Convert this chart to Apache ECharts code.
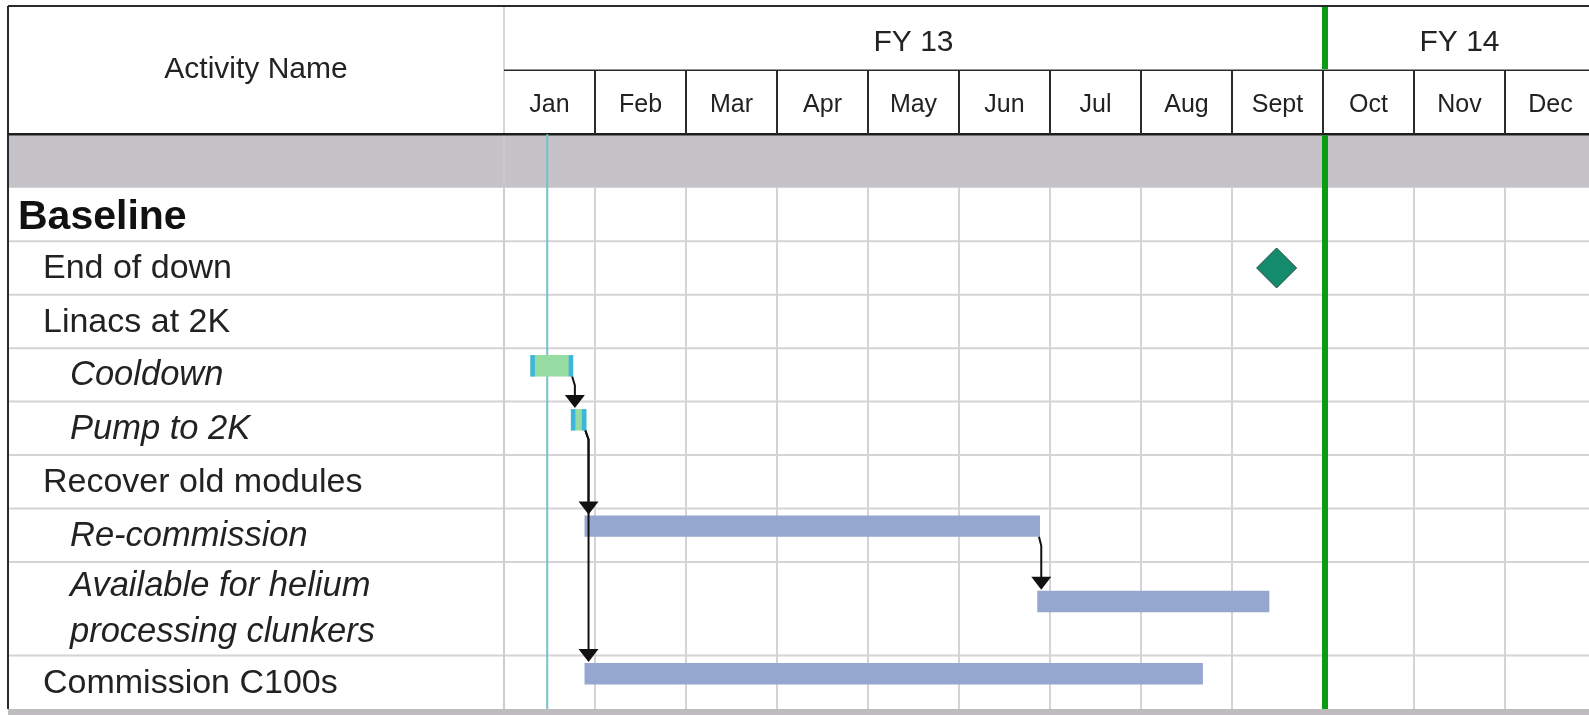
<!DOCTYPE html>
<html><head><meta charset="utf-8">
<script src="https://cdn.jsdelivr.net/npm/echarts@6/dist/echarts.min.js"></script>
<style>html,body{margin:0;padding:0;background:#fff}#c{width:1589px;height:715px}</style>
</head><body><div id="c"></div>
<script>
// ---------------- data ----------------
const months = ['Jan','Feb','Mar','Apr','May','Jun','Jul','Aug','Sept','Oct','Nov','Dec'];
const fiscalYears = ['FY 13','FY 14'];
const fiscalYearStart = [0, 9];
const fiscalYearEnd = [9, 12];
const activities = ['Baseline','End of down','Linacs at 2K','Cooldown','Pump to 2K','Recover old modules','Re-commission','Available for helium\nprocessing clunkers','Commission C100s'];
// tasks (months from Jan 1)
const taskRow   = [3, 4, 6, 7, 8];
const taskStart = [0.29, 0.735, 0.885, 5.86, 0.885];
const taskEnd   = [0.76, 0.905, 5.89, 8.41, 7.68];
// milestones
const milestoneRow = [1];
const milestoneMonth = [8.49];
// dependency links (task index -> task index)
const linkFrom = [0, 1, 1, 2];
const linkTo   = [1, 2, 4, 3];
const statusDate = 0.475;
const fyBoundary = 9;

// ---------------- layout / style ----------------
const FONT = "'Liberation Sans', Arial, sans-serif";
const rowLevel = [0,1,1,2,2,1,2,2,1];
const rowUnits = [1,1,1,1,1,1,1,1.75,1];
const barOffset = [0.13,0.13,0.13,0.13,0.14,0.13,0.13,0.54,0.14];
const barH = 0.40;
const cryoRows = [3,4];
const bandTop = 0, bandEnd = 1;
const headTop = -2.4, headMid = -1.2;
const visibleMonths = 11.923;   // the Dec column is cut off by the picture edge
const rowTop = [];
let acc = bandEnd;
rowUnits.forEach((u,i)=>{ rowTop.push(acc); acc += u; });
const yMax = acc;
const LEFT_X = 8;
const levelX = [18, 43, 70];

const chart = echarts.init(document.getElementById('c'), null, {renderer:'canvas'});

function single(render, z){
  return {type:'custom', coordinateSystem:'cartesian2d', data:[[0,0]], renderItem: render, z: z, silent:true, clip:false, animation:false};
}

const series = [];

// grey band
series.push(single((p, api) => {
  const a = api.coord([0, bandTop]), b = api.coord([12, bandEnd]);
  return {type:'rect', shape:{x:LEFT_X, y:a[1], width:api.getWidth()-LEFT_X, height:b[1]-a[1]}, style:{fill:'#c5c3c7'}};
}, 1));

// vertical grid lines in body
series.push({type:'custom', coordinateSystem:'cartesian2d', z:2, silent:true, clip:false, animation:false,
  data: months.map((m,i)=>[i,0]).concat([[months.length,0]]),
  renderItem: (p, api) => {
    const x = api.coord([api.value(0), 0])[0];
    const y0 = api.coord([0, bandEnd])[1], y1 = api.coord([0, yMax])[1];
    return {type:'line', shape:{x1:x,y1:y0,x2:x,y2:y1}, style:{stroke:'#d6d2d7', lineWidth:2}};
  }});

// horizontal row lines
series.push({type:'custom', coordinateSystem:'cartesian2d', z:2, silent:true, clip:false, animation:false,
  data: rowTop.slice(1).map(v=>[0,v]),
  renderItem: (p, api) => {
    const y = api.coord([0, api.value(1)])[1];
    return {type:'line', shape:{x1:LEFT_X,y1:y,x2:api.getWidth(),y2:y}, style:{stroke:'#d6d2d7', lineWidth:2}};
  }});

// activity column divider (grey)
series.push(single((p, api) => {
  const x = api.coord([0,0])[0];
  const y0 = api.coord([0, headTop])[1], y1 = api.coord([0, yMax])[1];
  return {type:'line', shape:{x1:x,y1:y0,x2:x,y2:y1}, style:{stroke:'#cdc9ce', lineWidth:1.5}};
}, 3));

// header lines
series.push(single((p, api) => {
  const W = api.getWidth();
  const yTop = api.coord([0, headTop])[1], yMid = api.coord([0, headMid])[1], yBot = api.coord([0, 0])[1];
  const yEnd = api.coord([0, yMax])[1];
  const x0 = api.coord([0,0])[0];
  const ch = [
    {type:'line', shape:{x1:LEFT_X,y1:yTop,x2:W,y2:yTop}, style:{stroke:'#2a2a2a', lineWidth:2}},
    {type:'line', shape:{x1:LEFT_X,y1:yTop,x2:LEFT_X,y2:yEnd}, style:{stroke:'#2a2a2a', lineWidth:2}},
    {type:'line', shape:{x1:x0,y1:yMid,x2:W,y2:yMid}, style:{stroke:'#2a2a2a', lineWidth:1.5}},
    {type:'line', shape:{x1:LEFT_X,y1:yBot,x2:W,y2:yBot}, style:{stroke:'#1e1e1e', lineWidth:2.5}},
    {type:'rect', shape:{x:LEFT_X, y:yEnd, width:W-LEFT_X, height:api.getHeight()-yEnd}, style:{fill:'#bebcbf'}}
  ];
  for (let i = 1; i <= months.length; i++) {
    const x = api.coord([i, 0])[0];
    ch.push({type:'line', shape:{x1:x,y1:yMid,x2:x,y2:yBot}, style:{stroke:'#2a2a2a', lineWidth:2}});
  }
  return {type:'group', children:ch};
}, 4));

// status date line
series.push(single((p, api) => {
  const a = api.coord([statusDate, 0]), b = api.coord([statusDate, yMax]);
  return {type:'line', shape:{x1:a[0],y1:a[1],x2:b[0],y2:b[1]}, style:{stroke:'#74c2c8', lineWidth:2}};
}, 5));

// fiscal year boundary (green)
series.push(single((p, api) => {
  const x = api.coord([fyBoundary, 0])[0] + 2;
  const yTop = api.coord([0, headTop])[1], yMid = api.coord([0, headMid])[1], yBot = api.coord([0, 0])[1], yEnd = api.coord([0, yMax])[1];
  return {type:'group', children:[
    {type:'line', shape:{x1:x,y1:yTop+1,x2:x,y2:yMid-1}, style:{stroke:'#0a9c12', lineWidth:6}},
    {type:'line', shape:{x1:x,y1:yBot+1,x2:x,y2:yEnd}, style:{stroke:'#0a9c12', lineWidth:6}}
  ]};
}, 6));

// header text
series.push(single((p, api) => {
  const yTop = api.coord([0, headTop])[1], yBot = api.coord([0, 0])[1];
  const x0 = api.coord([0,0])[0];
  return {type:'text', style:{text:'Activity Name', x:(LEFT_X+x0)/2, y:(yTop+yBot)/2, align:'center', verticalAlign:'middle', fontSize:30, fontFamily:FONT, fill:'#222'}};
}, 7));
series.push({type:'custom', coordinateSystem:'cartesian2d', z:7, silent:true, clip:false, animation:false,
  data: months.map((m,i)=>[i,0]),
  renderItem: (p, api) => {
    const i = api.value(0);
    const c = api.coord([i+0.5, (headMid+0)/2]);
    return {type:'text', style:{text:months[i], x:c[0], y:c[1]+3, align:'center', verticalAlign:'middle', fontSize:25, fontFamily:FONT, fill:'#222'}};
  }});
series.push({type:'custom', coordinateSystem:'cartesian2d', z:7, silent:true, clip:false, animation:false,
  data: fiscalYears.map((f,i)=>[i,0]),
  renderItem: (p, api) => {
    const i = api.value(0);
    const c = api.coord([(fiscalYearStart[i]+fiscalYearEnd[i])/2, (headTop+headMid)/2]);
    return {type:'text', style:{text:fiscalYears[i], x:c[0], y:c[1]+5, align:'center', verticalAlign:'middle', fontSize:30, fontFamily:FONT, fill:'#222'}};
  }});

// activity names
series.push({type:'custom', coordinateSystem:'cartesian2d', z:7, silent:true, clip:false, animation:false,
  data: activities.map((a,i)=>[i,0]),
  renderItem: (p, api) => {
    const i = api.value(0);
    const lvl = rowLevel[i];
    const y = api.coord([0, rowTop[i] + rowUnits[i]/2])[1] + (lvl===0 ? 3 : 1);
    return {type:'text', style:{text:activities[i], x:levelX[lvl], y:y, align:'left', verticalAlign:'middle',
      fontSize: lvl===0 ? 41 : (lvl===2 ? 34.5 : 34), fontWeight: lvl===0 ? 'bold' : 'normal', fontStyle: lvl===2 ? 'italic' : 'normal',
      lineHeight: 46, fontFamily:FONT, fill: lvl===0 ? '#111' : '#222'}};
  }});

// task bars
series.push({type:'custom', coordinateSystem:'cartesian2d', z:8, silent:true, clip:false, animation:false,
  data: taskRow.map((r,i)=>[taskStart[i], taskEnd[i], r]),
  renderItem: (p, api) => {
    const s = api.value(0), e = api.value(1), r = api.value(2);
    const top = rowTop[r] + barOffset[r];
    const a = api.coord([s, top]), b = api.coord([e, top + barH]);
    const w = b[0]-a[0], h = b[1]-a[1];
    if (cryoRows.indexOf(r) >= 0) {
      const cap = 4.5;
      return {type:'group', children:[
        {type:'rect', shape:{x:a[0], y:a[1], width:w, height:h}, style:{fill:'#96dca2'}},
        {type:'rect', shape:{x:a[0], y:a[1], width:cap, height:h}, style:{fill:'#3db6de'}},
        {type:'rect', shape:{x:b[0]-cap, y:a[1], width:cap, height:h}, style:{fill:'#3db6de'}}
      ]};
    }
    return {type:'rect', shape:{x:a[0], y:a[1], width:w, height:h}, style:{fill:'#95a7ce'}};
  }});

// dependency links
series.push({type:'custom', coordinateSystem:'cartesian2d', z:9, silent:true, clip:false, animation:false,
  data: linkFrom.map((f,i)=>[f, linkTo[i]]),
  renderItem: (p, api) => {
    const f = api.value(0), t = api.value(1);
    const rf = taskRow[f], rt = taskRow[t];
    const pe = api.coord([taskEnd[f], rowTop[rf] + barOffset[rf] + barH]);
    const ps = api.coord([taskStart[t], rowTop[rt] + barOffset[rt]]);
    const ax = ps[0] + 4, tipY = ps[1] - 1;
    return {type:'group', children:[
      {type:'polyline', shape:{points:[[pe[0]-1, pe[1]], [ax, pe[1]+9], [ax, tipY-10]]}, style:{stroke:'#111', lineWidth:2, fill:null}},
      {type:'polygon', shape:{points:[[ax-10, tipY-13], [ax+10, tipY-13], [ax, tipY]]}, style:{fill:'#111'}}
    ]};
  }});

// milestones
series.push({type:'custom', coordinateSystem:'cartesian2d', z:9, silent:true, clip:false, animation:false,
  data: milestoneRow.map((r,i)=>[milestoneMonth[i], r]),
  renderItem: (p, api) => {
    const r = api.value(1);
    const c = api.coord([api.value(0), rowTop[r] + rowUnits[r]/2]);
    const s = 20;
    return {type:'polygon', shape:{points:[[c[0], c[1]-s],[c[0]+s, c[1]],[c[0], c[1]+s],[c[0]-s, c[1]]]}, style:{fill:'#138b6c', stroke:'#2b4a42', lineWidth:1}};
  }});

chart.setOption({
  animation:false,
  backgroundColor:'#fff',
  grid:{left:504, right:0, top:6, bottom:6, containLabel:false},
  xAxis:{type:'value', min:0, max:visibleMonths, show:false},
  yAxis:{type:'value', min:headTop, max:yMax, inverse:true, show:false},
  series: series
});
</script></body></html>
